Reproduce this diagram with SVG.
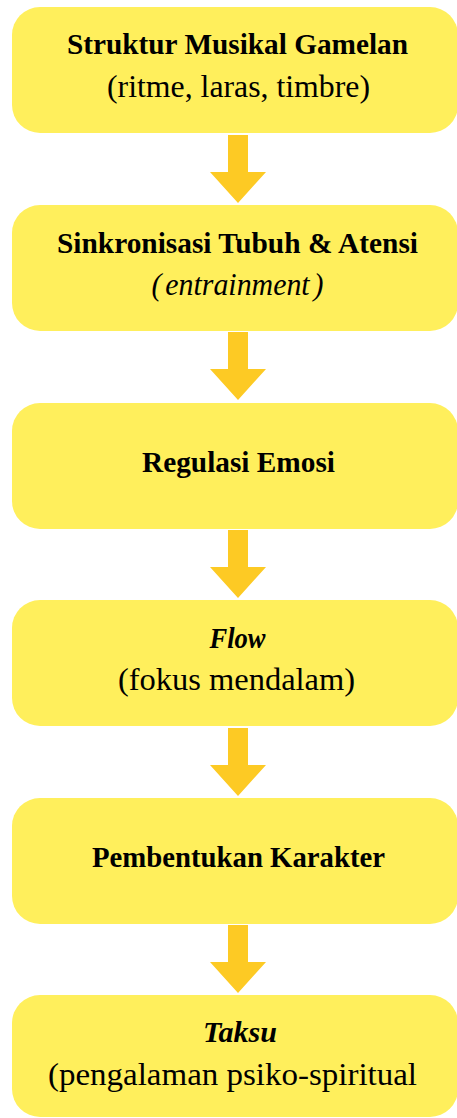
<svg xmlns="http://www.w3.org/2000/svg" width="457" height="1118" viewBox="0 0 457 1118">
<style>
.box{fill:#FFEF5C;}
.arr{fill:#FDCA24;}
text{font-family:'Liberation Serif','Times New Roman',serif;fill:#000;text-anchor:middle;}
.b{font-weight:bold;font-size:28.5px;}
.r{font-size:30.5px;}
.i{font-style:italic;}
</style>
<rect width="457" height="1118" fill="#FFFFFF"/>
<g id="connectors">
<path class="arr" d="M228,135 H248 V172 H266 L238,203 L210,172 H228 Z"/>
<path class="arr" d="M228,332 H248 V369 H266 L238,400 L210,369 H228 Z"/>
<path class="arr" d="M228,530 H248 V567 H266 L238,598 L210,567 H228 Z"/>
<path class="arr" d="M228,728 H248 V765 H266 L238,796 L210,765 H228 Z"/>
<path class="arr" d="M228,925 H248 V962 H266 L238,993 L210,962 H228 Z"/>
</g>
<g id="node1">
<rect class="box" x="12" y="7" width="446" height="126" rx="28"/>
<text class="b" x="237.5" y="54" textLength="341" lengthAdjust="spacingAndGlyphs">Struktur Musikal Gamelan</text>
<text class="r" x="238.5" y="97" textLength="263" lengthAdjust="spacingAndGlyphs">(ritme, laras, timbre)</text>
</g>
<g id="node2">
<rect class="box" x="12" y="205" width="446" height="126" rx="28"/>
<text class="b" x="237.5" y="253" textLength="361" lengthAdjust="spacingAndGlyphs">Sinkronisasi Tubuh &amp; Atensi</text>
<text class="r i" x="237.5" y="295" textLength="172" lengthAdjust="spacingAndGlyphs">(<tspan dx="4">entrainment</tspan><tspan dx="4">)</tspan></text>
</g>
<g id="node3">
<rect class="box" x="12" y="403" width="446" height="126" rx="28"/>
<text class="b" x="238.5" y="472" textLength="193" lengthAdjust="spacingAndGlyphs">Regulasi Emosi</text>
</g>
<g id="node4">
<rect class="box" x="12" y="600" width="446" height="126" rx="28"/>
<text class="b i" x="237.5" y="648" textLength="56" lengthAdjust="spacingAndGlyphs">Flow</text>
<text class="r" x="236.5" y="690" textLength="237" lengthAdjust="spacingAndGlyphs">(fokus mendalam)</text>
</g>
<g id="node5">
<rect class="box" x="12" y="798" width="446" height="126" rx="28"/>
<text class="b" x="238.5" y="867" textLength="293" lengthAdjust="spacingAndGlyphs">Pembentukan Karakter</text>
</g>
<g id="node6">
<rect class="box" x="12" y="995" width="446" height="122" rx="28"/>
<text class="b i" x="240" y="1042" textLength="74" lengthAdjust="spacingAndGlyphs">Taksu</text>
<text class="r" x="232.5" y="1085" textLength="369" lengthAdjust="spacingAndGlyphs">(pengalaman psiko-spiritual</text>
</g>
</svg>
